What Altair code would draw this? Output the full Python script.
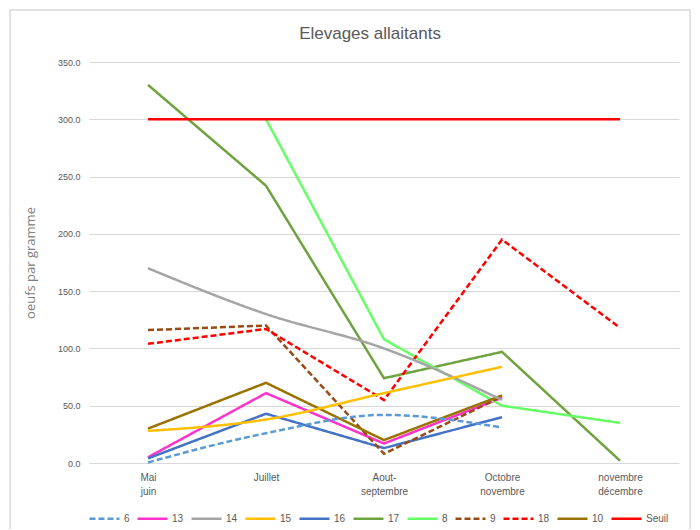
import altair as alt
import pandas as pd

months = ["Mai|juin", "Juillet", "Aout-|septembre", "Octobre|novembre", "novembre|décembre"]
series = ["6", "13", "14", "15", "16", "17", "8", "9", "18", "10", "Seuil"]

v6 = [0.5, 26, 42, 31, None]
v13 = [5, 61, 17, 57, None]
v14 = [170, 130, 100, 55, None]
v15 = [28, 38, 61, 84, None]
v16 = [4, 43, 13, 40, None]
v17 = [330, 242, 74, 97, 2]
v8 = [None, 300, 108, 50, 35]
v9 = [116, 120, 8, 58, None]
v18 = [104, 117, 55, 195, 118]
v10 = [30, 70, 20, 59, None]
seuil = [300, 300, 300, 300, 300]

values = [v6, v13, v14, v15, v16, v17, v8, v9, v18, v10, seuil]
colors = ["#5B9BD5", "#FF33CC", "#A5A5A5", "#FFC000", "#4472C4", "#6FA33F",
          "#66FF66", "#9A4A14", "#FF0000", "#997300", "#FF0000"]
dashes = [[6, 3], [1, 0], [1, 0], [1, 0], [1, 0], [1, 0], [1, 0], [6, 3], [6, 3], [1, 0], [1, 0]]
widths = [2.5, 2.5, 2.5, 2.5, 2.5, 2.5, 2.5, 2.5, 2.5, 2.5, 3.5]
smooth = ["6", "14", "15"]

rows = []
for s, vals in zip(series, values):
    for m, v in zip(months, vals):
        if v is not None:
            rows.append({"mois": m, "serie": s, "valeur": v, "lisse": s in smooth})
df = pd.DataFrame(rows)

base = alt.Chart(df).encode(
    x=alt.X("mois:N", sort=months, scale=alt.Scale(domain=months, padding=0.5),
            axis=alt.Axis(title=None, labelExpr="split(datum.label, '|')", labelAngle=0,
                          ticks=False, domain=False, grid=False, labelPadding=9,
                          labelFontSize=10, labelLineHeight=14, labelColor="#595959",
                          labelFont="Liberation Sans")),
    y=alt.Y("valeur:Q", scale=alt.Scale(domain=[0, 350], nice=False),
            axis=alt.Axis(title="oeufs par gramme", values=[0, 50, 100, 150, 200, 250, 300, 350],
                          format=".1f", ticks=False, domain=False, gridColor="#D9D9D9",
                          labelFontSize=9, labelColor="#595959", labelPadding=9,
                          titleFontSize=13, titleFont="Open Sans", titleFontWeight="normal",
                          titleColor="#808080", titlePadding=20, labelFont="Liberation Sans")),
    color=alt.Color("serie:N", sort=series,
                    scale=alt.Scale(domain=series, range=colors),
                    legend=alt.Legend(title=None)),
    strokeDash=alt.StrokeDash("serie:N", sort=series,
                              scale=alt.Scale(domain=series, range=dashes),
                              legend=alt.Legend(title=None)),
    strokeWidth=alt.StrokeWidth("serie:N", sort=series,
                                scale=alt.Scale(domain=series, range=widths),
                                legend=alt.Legend(title=None)),
    detail="serie:N",
)

straight = base.transform_filter("!datum.lisse").mark_line()
curved = base.transform_filter("datum.lisse").mark_line(interpolate="monotone")

border = alt.Chart(pd.DataFrame({"a": [0]})).mark_rect(
    fill=None, stroke="#D9D9D9", strokeWidth=1.5
).encode(x=alt.value(-79), x2=alt.value(601), y=alt.value(-52), y2=alt.value(475))

chart = alt.layer(border, straight, curved).properties(
    width=590, height=401,
    autosize=alt.AutoSizeParams(type="none"),
    padding={"left": 81, "top": 54, "right": 13, "bottom": 66},
    title=alt.TitleParams("Elevages allaitants", fontSize=17, font="Liberation Sans",
                          fontWeight="normal", color="#595959", offset=-34, dx=-14),
).configure_view(stroke=None).configure_legend(
    orient="none", legendX=-1, legendY=440, direction="horizontal",
    symbolType="stroke", symbolSize=900, labelFontSize=10, labelColor="#595959",
    columnPadding=2, labelOffset=3, labelFont="Liberation Sans",
)

chart.save("out.html", embed_options={"renderer": "svg", "actions": False})
